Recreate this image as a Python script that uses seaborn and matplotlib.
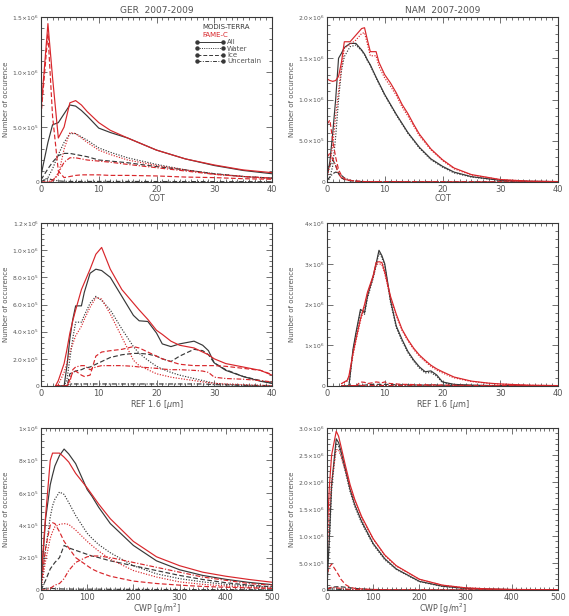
import matplotlib
matplotlib.use("Agg")
import matplotlib.pyplot as plt
import matplotlib.ticker as mticker
from matplotlib.lines import Line2D
import seaborn as sns
import pandas as pd
import numpy as np

# Valores em unidades de 10^6 ocorrências

# --- GER, COT ---
ger_cot_x = [0, 1.2, 2, 3, 4, 5, 6, 7, 8, 10, 12, 15, 20, 25, 30, 35, 40]
ger_cot_modis_all = [0.06, 0.36, 0.52, 0.54, 0.62, 0.70, 0.69, 0.65, 0.60, 0.49, 0.45, 0.40, 0.29, 0.21, 0.15, 0.105, 0.075]
ger_cot_fame_all = [0.65, 1.44, 0.95, 0.40, 0.50, 0.72, 0.74, 0.70, 0.64, 0.54, 0.47, 0.40, 0.29, 0.21, 0.155, 0.11, 0.085]
ger_cot_modis_water = [0.0, 0.04, 0.12, 0.25, 0.36, 0.44, 0.44, 0.41, 0.38, 0.31, 0.27, 0.22, 0.16, 0.11, 0.075, 0.05, 0.035]
ger_cot_fame_water = [0.0, 0.0, 0.02, 0.06, 0.30, 0.45, 0.44, 0.40, 0.36, 0.29, 0.25, 0.20, 0.15, 0.11, 0.07, 0.05, 0.03]
ger_cot_modis_ice = [0.02, 0.12, 0.18, 0.24, 0.26, 0.26, 0.25, 0.24, 0.23, 0.20, 0.19, 0.175, 0.14, 0.11, 0.075, 0.05, 0.035]
ger_cot_fame_ice = [0.60, 1.35, 0.60, 0.10, 0.04, 0.05, 0.06, 0.065, 0.065, 0.065, 0.06, 0.06, 0.055, 0.045, 0.04, 0.03, 0.025]
ger_cot_modis_unc = [0.005, 0.03, 0.02, 0.01, 0.006, 0.005, 0.005, 0.005, 0.005, 0.005, 0.005, 0.005, 0.004, 0.004, 0.003, 0.003, 0.002]
ger_cot_fame_unc = [0.0, 0.0, 0.01, 0.08, 0.18, 0.22, 0.22, 0.21, 0.20, 0.19, 0.18, 0.16, 0.13, 0.10, 0.07, 0.05, 0.035]

# --- NAM, COT ---
nam_cot_x = [0, 0.5, 1, 1.5, 2, 2.5, 3, 4, 5, 6, 6.5, 7, 7.5, 8.5, 9, 10, 11, 12, 13, 14, 15, 16, 18, 20, 22, 25, 30, 35, 40]
nam_cot_modis_all = [0.06, 0.25, 0.60, 1.0, 1.5, 1.56, 1.63, 1.68, 1.68, 1.60, 1.55, 1.48, 1.42, 1.27, 1.20, 1.06, 0.94, 0.82, 0.71, 0.60, 0.51, 0.42, 0.28, 0.19, 0.12, 0.065, 0.02, 0.008, 0.004]
nam_cot_fame_all = [1.25, 1.23, 1.22, 1.23, 1.28, 1.45, 1.70, 1.70, 1.78, 1.86, 1.87, 1.72, 1.58, 1.58, 1.45, 1.30, 1.20, 1.08, 0.94, 0.83, 0.70, 0.58, 0.40, 0.27, 0.17, 0.09, 0.03, 0.01, 0.005]
nam_cot_modis_water = [0.0, 0.05, 0.20, 0.55, 1.0, 1.35, 1.52, 1.64, 1.66, 1.59, 1.54, 1.47, 1.41, 1.26, 1.19, 1.05, 0.93, 0.81, 0.70, 0.59, 0.50, 0.41, 0.27, 0.18, 0.11, 0.06, 0.02, 0.007, 0.003]
nam_cot_fame_water = [0.05, 0.20, 0.45, 0.80, 1.10, 1.38, 1.62, 1.67, 1.72, 1.80, 1.81, 1.67, 1.53, 1.53, 1.40, 1.26, 1.16, 1.05, 0.91, 0.80, 0.68, 0.56, 0.39, 0.26, 0.16, 0.085, 0.028, 0.01, 0.005]
nam_cot_modis_ice = [0.10, 0.20, 0.27, 0.20, 0.10, 0.05, 0.03, 0.015, 0.01, 0.006, 0.005, 0.005, 0.005, 0.005, 0.005, 0.005, 0.005, 0.005, 0.004, 0.004, 0.004, 0.003, 0.003, 0.002, 0.002, 0.001, 0.001, 0.0, 0.0]
nam_cot_fame_ice = [0.70, 0.75, 0.50, 0.30, 0.15, 0.08, 0.04, 0.02, 0.01, 0.006, 0.005, 0.005, 0.005, 0.005, 0.005, 0.005, 0.005, 0.004, 0.004, 0.004, 0.003, 0.003, 0.003, 0.002, 0.002, 0.001, 0.001, 0.0, 0.0]
nam_cot_modis_unc = [0.02, 0.06, 0.10, 0.12, 0.11, 0.08, 0.05, 0.02, 0.01, 0.005, 0.005, 0.004, 0.004, 0.004, 0.004, 0.003, 0.003, 0.003, 0.003, 0.002, 0.002, 0.002, 0.002, 0.001, 0.001, 0.001, 0.0, 0.0, 0.0]
nam_cot_fame_unc = [0.30, 0.35, 0.28, 0.20, 0.10, 0.05, 0.03, 0.02, 0.01, 0.006, 0.005, 0.005, 0.005, 0.004, 0.004, 0.004, 0.003, 0.003, 0.003, 0.002, 0.002, 0.002, 0.002, 0.001, 0.001, 0.001, 0.0, 0.0, 0.0]

# --- GER, REF 1.6 ---
ger_ref_x = [2.5, 3, 4, 4.5, 5, 5.5, 6, 7, 7.5, 8.5, 9.5, 10.5, 12, 14, 16, 17, 18.5, 20, 21, 22.5, 24, 26.5, 28, 29, 30, 32, 35, 38, 40]
ger_ref_modis_all = [0.0, 0.0, 0.0, 0.15, 0.35, 0.49, 0.59, 0.59, 0.69, 0.83, 0.86, 0.85, 0.80, 0.66, 0.52, 0.48, 0.475, 0.39, 0.31, 0.29, 0.31, 0.33, 0.30, 0.26, 0.17, 0.115, 0.07, 0.035, 0.02]
ger_ref_fame_all = [0.0, 0.04, 0.165, 0.27, 0.39, 0.48, 0.56, 0.71, 0.76, 0.86, 0.97, 1.02, 0.86, 0.71, 0.61, 0.56, 0.49, 0.41, 0.38, 0.33, 0.30, 0.28, 0.25, 0.23, 0.20, 0.165, 0.14, 0.115, 0.08]
ger_ref_modis_water = [0.0, 0.0, 0.0, 0.05, 0.20, 0.35, 0.47, 0.47, 0.52, 0.61, 0.66, 0.63, 0.56, 0.42, 0.29, 0.24, 0.19, 0.145, 0.125, 0.10, 0.08, 0.055, 0.04, 0.03, 0.02, 0.012, 0.006, 0.002, 0.0]
ger_ref_fame_water = [0.0, 0.01, 0.10, 0.17, 0.25, 0.31, 0.37, 0.44, 0.49, 0.58, 0.65, 0.64, 0.53, 0.36, 0.19, 0.15, 0.12, 0.09, 0.08, 0.065, 0.055, 0.04, 0.03, 0.025, 0.02, 0.015, 0.01, 0.005, 0.003]
ger_ref_modis_ice = [0.0, 0.0, 0.0, 0.0, 0.09, 0.10, 0.11, 0.12, 0.13, 0.14, 0.16, 0.18, 0.21, 0.23, 0.24, 0.24, 0.235, 0.22, 0.20, 0.18, 0.22, 0.27, 0.26, 0.23, 0.17, 0.12, 0.07, 0.04, 0.02]
ger_ref_fame_ice = [0.0, 0.0, 0.0, 0.0, 0.05, 0.10, 0.11, 0.08, 0.07, 0.08, 0.22, 0.25, 0.26, 0.27, 0.29, 0.28, 0.25, 0.22, 0.20, 0.18, 0.16, 0.15, 0.15, 0.15, 0.15, 0.145, 0.13, 0.115, 0.085]
ger_ref_modis_unc = [0.0, 0.0, 0.0, 0.005, 0.015, 0.015, 0.015, 0.015, 0.015, 0.015, 0.015, 0.015, 0.015, 0.015, 0.015, 0.015, 0.015, 0.015, 0.015, 0.015, 0.015, 0.015, 0.015, 0.013, 0.01, 0.008, 0.005, 0.004, 0.003]
ger_ref_fame_unc = [0.0, 0.0, 0.0, 0.0, 0.03, 0.12, 0.14, 0.15, 0.15, 0.12, 0.14, 0.15, 0.15, 0.15, 0.145, 0.14, 0.135, 0.13, 0.125, 0.12, 0.12, 0.115, 0.11, 0.10, 0.065, 0.055, 0.05, 0.04, 0.03]

# --- NAM, REF 1.6 ---
nam_ref_x = [2.5, 3.5, 3.8, 4.5, 5, 5.8, 6.5, 7, 8, 8.5, 9, 9.5, 10, 10.5, 11, 12, 13, 14, 15, 16, 17, 18, 19, 20, 22, 25, 28, 30, 35, 40]
nam_ref_modis_all = [0.0, 0.0, 0.0, 0.9, 1.3, 1.88, 1.8, 2.2, 2.7, 3.0, 3.33, 3.2, 3.0, 2.55, 2.1, 1.47, 1.14, 0.85, 0.64, 0.47, 0.35, 0.37, 0.27, 0.10, 0.04, 0.02, 0.012, 0.01, 0.004, 0.0]
nam_ref_fame_all = [0.06, 0.14, 0.25, 0.80, 1.14, 1.65, 2.0, 2.3, 2.71, 3.03, 3.05, 3.03, 2.8, 2.5, 2.2, 1.76, 1.39, 1.14, 0.93, 0.76, 0.63, 0.51, 0.42, 0.35, 0.22, 0.12, 0.07, 0.05, 0.02, 0.01]
nam_ref_modis_water = [0.0, 0.0, 0.0, 0.85, 1.25, 1.82, 1.76, 2.15, 2.65, 2.95, 3.27, 3.15, 2.95, 2.5, 2.05, 1.43, 1.10, 0.82, 0.61, 0.44, 0.32, 0.33, 0.24, 0.08, 0.03, 0.015, 0.01, 0.008, 0.003, 0.0]
nam_ref_fame_water = [0.05, 0.12, 0.22, 0.75, 1.10, 1.60, 1.95, 2.25, 2.66, 2.98, 3.0, 2.98, 2.76, 2.46, 2.16, 1.72, 1.36, 1.11, 0.90, 0.73, 0.60, 0.48, 0.39, 0.32, 0.20, 0.11, 0.065, 0.045, 0.018, 0.008]
nam_ref_modis_ice = [0.0, 0.0, 0.0, 0.01, 0.01, 0.02, 0.02, 0.03, 0.04, 0.04, 0.04, 0.04, 0.04, 0.04, 0.035, 0.03, 0.03, 0.03, 0.025, 0.025, 0.02, 0.03, 0.025, 0.02, 0.015, 0.01, 0.01, 0.008, 0.004, 0.0]
nam_ref_fame_ice = [0.0, 0.0, 0.0, 0.0, 0.0, 0.10, 0.09, 0.06, 0.08, 0.10, 0.09, 0.08, 0.10, 0.07, 0.06, 0.05, 0.04, 0.04, 0.035, 0.03, 0.03, 0.03, 0.025, 0.025, 0.02, 0.015, 0.01, 0.01, 0.005, 0.0]
nam_ref_modis_unc = [0.0, 0.0, 0.0, 0.005, 0.008, 0.01, 0.01, 0.01, 0.01, 0.01, 0.01, 0.01, 0.01, 0.01, 0.01, 0.01, 0.008, 0.008, 0.006, 0.006, 0.005, 0.005, 0.004, 0.004, 0.003, 0.002, 0.002, 0.001, 0.0, 0.0]
nam_ref_fame_unc = [0.0, 0.005, 0.008, 0.01, 0.01, 0.012, 0.012, 0.012, 0.012, 0.012, 0.012, 0.012, 0.012, 0.01, 0.01, 0.01, 0.008, 0.008, 0.006, 0.006, 0.005, 0.005, 0.004, 0.004, 0.003, 0.002, 0.002, 0.001, 0.0, 0.0]

# --- GER, CWP ---
ger_cwp_x = [0, 10, 20, 25, 30, 40, 50, 60, 75, 100, 110, 125, 150, 200, 250, 300, 350, 400, 450, 500]
ger_cwp_modis_all = [0.027, 0.44, 0.65, 0.71, 0.765, 0.83, 0.87, 0.84, 0.78, 0.62, 0.58, 0.51, 0.41, 0.275, 0.18, 0.125, 0.09, 0.066, 0.047, 0.033]
ger_cwp_fame_all = [0.07, 0.46, 0.80, 0.845, 0.845, 0.845, 0.82, 0.79, 0.72, 0.63, 0.59, 0.53, 0.44, 0.30, 0.205, 0.15, 0.11, 0.085, 0.065, 0.048]
ger_cwp_modis_water = [0.01, 0.25, 0.45, 0.52, 0.56, 0.605, 0.59, 0.54, 0.46, 0.35, 0.32, 0.28, 0.23, 0.15, 0.10, 0.07, 0.05, 0.035, 0.025, 0.018]
ger_cwp_fame_water = [0.01, 0.18, 0.32, 0.36, 0.39, 0.405, 0.41, 0.405, 0.37, 0.30, 0.275, 0.24, 0.19, 0.12, 0.08, 0.05, 0.035, 0.025, 0.017, 0.012]
ger_cwp_modis_ice = [0.0, 0.06, 0.13, 0.15, 0.17, 0.20, 0.275, 0.26, 0.245, 0.22, 0.21, 0.20, 0.18, 0.15, 0.12, 0.09, 0.065, 0.045, 0.03, 0.02]
ger_cwp_fame_ice = [0.03, 0.26, 0.40, 0.415, 0.41, 0.36, 0.30, 0.26, 0.20, 0.15, 0.13, 0.11, 0.085, 0.055, 0.04, 0.03, 0.022, 0.017, 0.013, 0.01]
ger_cwp_modis_unc = [0.005, 0.01, 0.012, 0.01, 0.008, 0.007, 0.006, 0.006, 0.005, 0.005, 0.005, 0.005, 0.004, 0.004, 0.003, 0.003, 0.002, 0.002, 0.002, 0.001]
ger_cwp_fame_unc = [0.0, 0.0, 0.01, 0.02, 0.03, 0.04, 0.07, 0.12, 0.17, 0.205, 0.21, 0.21, 0.20, 0.17, 0.14, 0.11, 0.08, 0.06, 0.04, 0.03]

# --- NAM, CWP ---
nam_cwp_x = [0, 5, 10, 20, 25, 30, 40, 50, 60, 75, 100, 125, 150, 200, 250, 300, 350, 400, 500]
nam_cwp_modis_all = [0.05, 0.95, 1.95, 2.80, 2.73, 2.58, 2.23, 1.86, 1.58, 1.27, 0.86, 0.58, 0.39, 0.16, 0.07, 0.03, 0.015, 0.008, 0.003]
nam_cwp_fame_all = [1.0, 1.9, 2.5, 2.94, 2.85, 2.67, 2.30, 1.95, 1.68, 1.36, 0.95, 0.65, 0.45, 0.20, 0.09, 0.04, 0.02, 0.01, 0.005]
nam_cwp_modis_water = [0.03, 0.85, 1.85, 2.72, 2.66, 2.52, 2.18, 1.82, 1.55, 1.24, 0.84, 0.56, 0.38, 0.155, 0.065, 0.028, 0.013, 0.007, 0.002]
nam_cwp_fame_water = [0.6, 1.45, 2.0, 2.6, 2.6, 2.48, 2.20, 1.90, 1.64, 1.33, 0.94, 0.64, 0.44, 0.195, 0.088, 0.038, 0.019, 0.009, 0.004]
nam_cwp_modis_ice = [0.02, 0.04, 0.05, 0.06, 0.06, 0.06, 0.05, 0.04, 0.03, 0.02, 0.01, 0.005, 0.003, 0.001, 0.0, 0.0, 0.0, 0.0, 0.0]
nam_cwp_fame_ice = [0.30, 0.42, 0.48, 0.35, 0.28, 0.20, 0.10, 0.05, 0.03, 0.02, 0.01, 0.005, 0.003, 0.001, 0.0, 0.0, 0.0, 0.0, 0.0]
nam_cwp_modis_unc = [0.01, 0.02, 0.02, 0.015, 0.012, 0.01, 0.008, 0.006, 0.005, 0.004, 0.003, 0.002, 0.001, 0.0, 0.0, 0.0, 0.0, 0.0, 0.0]
nam_cwp_fame_unc = [0.02, 0.03, 0.05, 0.04, 0.035, 0.03, 0.02, 0.01, 0.008, 0.005, 0.003, 0.002, 0.001, 0.0, 0.0, 0.0, 0.0, 0.0, 0.0]

# Eixos: ticks e rótulos
ger_cot_yticks = [0, 0.5e6, 1.0e6, 1.5e6]
ger_cot_ylabels = ["0", r"5.0$\times$10$^5$", r"1.0$\times$10$^6$", r"1.5$\times$10$^6$"]
nam_cot_yticks = [0, 0.5e6, 1.0e6, 1.5e6, 2.0e6]
nam_cot_ylabels = ["0", r"5.0$\times$10$^5$", r"1.0$\times$10$^6$", r"1.5$\times$10$^6$", r"2.0$\times$10$^6$"]
ger_ref_yticks = [0, 0.2e6, 0.4e6, 0.6e6, 0.8e6, 1.0e6, 1.2e6]
ger_ref_ylabels = ["0", r"2.0$\times$10$^5$", r"4.0$\times$10$^5$", r"6.0$\times$10$^5$",
                   r"8.0$\times$10$^5$", r"1.0$\times$10$^6$", r"1.2$\times$10$^6$"]
nam_ref_yticks = [0, 1e6, 2e6, 3e6, 4e6]
nam_ref_ylabels = ["0", r"1$\times$10$^6$", r"2$\times$10$^6$", r"3$\times$10$^6$", r"4$\times$10$^6$"]
ger_cwp_yticks = [0, 0.2e6, 0.4e6, 0.6e6, 0.8e6, 1.0e6]
ger_cwp_ylabels = ["0", r"2$\times$10$^5$", r"4$\times$10$^5$", r"6$\times$10$^5$", r"8$\times$10$^5$", r"1$\times$10$^6$"]
nam_cwp_yticks = [0, 0.5e6, 1.0e6, 1.5e6, 2.0e6, 2.5e6, 3.0e6]
nam_cwp_ylabels = ["0", r"5.0$\times$10$^5$", r"1.0$\times$10$^6$", r"1.5$\times$10$^6$",
                   r"2.0$\times$10$^6$", r"2.5$\times$10$^6$", r"3.0$\times$10$^6$"]

cot_xticks = [0, 10, 20, 30, 40]
cwp_xticks = [0, 100, 200, 300, 400, 500]

fontes = ["MODIS-TERRA", "FAME-C"]
fases = ["All", "Water", "Ice", "Uncertain"]

PRETO = "#383838"
VERMELHO = "#d8262b"
CINZA = "#555555"
CORES = {"MODIS-TERRA": PRETO, "FAME-C": VERMELHO}
TRACOS = {"All": "", "Water": (1, 1.3), "Ice": (4, 2), "Uncertain": (4, 1.5, 1, 1.5)}
ESTILOS_MPL = {"All": "-", "Water": (0, (1, 1.3)), "Ice": (0, (4, 2)), "Uncertain": (0, (4, 1.5, 1, 1.5))}


def monta_df(x, modis, fame):
    partes = []
    for fonte, grupo in zip(fontes, [modis, fame]):
        for fase, y in zip(fases, grupo):
            partes.append(pd.DataFrame({"x": x, "n": np.array(y) * 1e6,
                                        "fonte": fonte, "fase": fase}))
    return pd.concat(partes, ignore_index=True)


def painel(ax, df, xlim, xticks, xlabel, ylim, yticks, ylabels, xminor):
    sns.lineplot(data=df, x="x", y="n", hue="fonte", style="fase",
                 palette=CORES, dashes=TRACOS, linewidth=0.85,
                 errorbar=None, legend=False, ax=ax)
    ax.set_xlim(*xlim)
    ax.set_ylim(*ylim)
    ax.set_xticks(xticks)
    ax.set_xticklabels([str(t) for t in xticks], fontsize=6, color=CINZA)
    ax.set_yticks(yticks)
    ax.set_yticklabels(ylabels, fontsize=4.3, color=CINZA)
    ax.xaxis.set_minor_locator(mticker.MultipleLocator(xminor))
    ax.yaxis.set_minor_locator(mticker.AutoMinorLocator(5))
    ax.tick_params(which="both", direction="in", top=True, right=True,
                   color=PRETO, width=0.5)
    ax.tick_params(axis="x", which="major", pad=2)
    ax.tick_params(axis="y", which="major", pad=1.5)
    ax.tick_params(which="major", length=4)
    ax.tick_params(which="minor", length=2)
    ax.set_xlabel(xlabel, fontsize=5.8, color=CINZA, labelpad=0)
    ax.set_ylabel("Number of occurence", fontsize=5, color=CINZA)
    ax.yaxis.set_label_coords(-0.14, 0.5)
    for sp in ax.spines.values():
        sp.set_visible(True)
        sp.set_color(PRETO)
        sp.set_linewidth(0.8)


sns.set_theme(style="ticks")
plt.rcParams["font.family"] = ["DejaVu Sans"]

fig = plt.figure(figsize=(5.69, 6.16), dpi=100)
esq, dir_, larg = 41 / 569, 327 / 569, 231 / 569
linhas_pos = [(1 - 182 / 616, 165 / 616), (1 - 386 / 616, 163 / 616), (1 - 590 / 616, 162 / 616)]

ax1 = fig.add_axes([esq, linhas_pos[0][0], larg, linhas_pos[0][1]])
ax2 = fig.add_axes([dir_, linhas_pos[0][0], larg, linhas_pos[0][1]])
ax3 = fig.add_axes([esq, linhas_pos[1][0], larg, linhas_pos[1][1]])
ax4 = fig.add_axes([dir_, linhas_pos[1][0], larg, linhas_pos[1][1]])
ax5 = fig.add_axes([esq, linhas_pos[2][0], larg, linhas_pos[2][1]])
ax6 = fig.add_axes([dir_, linhas_pos[2][0], larg, linhas_pos[2][1]])

df1 = monta_df(ger_cot_x,
               [ger_cot_modis_all, ger_cot_modis_water, ger_cot_modis_ice, ger_cot_modis_unc],
               [ger_cot_fame_all, ger_cot_fame_water, ger_cot_fame_ice, ger_cot_fame_unc])
df2 = monta_df(nam_cot_x,
               [nam_cot_modis_all, nam_cot_modis_water, nam_cot_modis_ice, nam_cot_modis_unc],
               [nam_cot_fame_all, nam_cot_fame_water, nam_cot_fame_ice, nam_cot_fame_unc])
df3 = monta_df(ger_ref_x,
               [ger_ref_modis_all, ger_ref_modis_water, ger_ref_modis_ice, ger_ref_modis_unc],
               [ger_ref_fame_all, ger_ref_fame_water, ger_ref_fame_ice, ger_ref_fame_unc])
df4 = monta_df(nam_ref_x,
               [nam_ref_modis_all, nam_ref_modis_water, nam_ref_modis_ice, nam_ref_modis_unc],
               [nam_ref_fame_all, nam_ref_fame_water, nam_ref_fame_ice, nam_ref_fame_unc])
df5 = monta_df(ger_cwp_x,
               [ger_cwp_modis_all, ger_cwp_modis_water, ger_cwp_modis_ice, ger_cwp_modis_unc],
               [ger_cwp_fame_all, ger_cwp_fame_water, ger_cwp_fame_ice, ger_cwp_fame_unc])
df6 = monta_df(nam_cwp_x,
               [nam_cwp_modis_all, nam_cwp_modis_water, nam_cwp_modis_ice, nam_cwp_modis_unc],
               [nam_cwp_fame_all, nam_cwp_fame_water, nam_cwp_fame_ice, nam_cwp_fame_unc])

painel(ax1, df1, (0, 40), cot_xticks, "COT", (0, 1.5e6), ger_cot_yticks, ger_cot_ylabels, 1)
painel(ax2, df2, (0, 40), cot_xticks, "COT", (0, 2.0e6), nam_cot_yticks, nam_cot_ylabels, 1)
painel(ax3, df3, (0, 40), cot_xticks, r"REF 1.6 [$\mu$m]", (0, 1.2e6), ger_ref_yticks, ger_ref_ylabels, 1)
painel(ax4, df4, (0, 40), cot_xticks, r"REF 1.6 [$\mu$m]", (0, 4e6), nam_ref_yticks, nam_ref_ylabels, 1)
painel(ax5, df5, (0, 500), cwp_xticks, r"CWP [g/m$^2$]", (0, 1e6), ger_cwp_yticks, ger_cwp_ylabels, 10)
painel(ax6, df6, (0, 500), cwp_xticks, r"CWP [g/m$^2$]", (0, 3e6), nam_cwp_yticks, nam_cwp_ylabels, 10)

ax1.set_title("GER  2007-2009", fontsize=6.5, color=CINZA, pad=3)
ax2.set_title("NAM  2007-2009", fontsize=6.5, color=CINZA, pad=3)

# Legenda (texto das fontes + estilos das fases)
ax1.text(0.70, 0.925, "MODIS-TERRA", transform=ax1.transAxes, fontsize=5, color=PRETO)
ax1.text(0.70, 0.88, "FAME-C", transform=ax1.transAxes, fontsize=5, color=VERMELHO)
alcas = [Line2D([], [], color=PRETO, linestyle=ESTILOS_MPL[f], linewidth=0.7,
                marker="o", markersize=2.2) for f in fases]
leg = ax1.legend(alcas, fases, loc="upper left", bbox_to_anchor=(0.665, 0.865),
                 frameon=False, numpoints=2, handlelength=4.4, fontsize=5,
                 labelspacing=0.05, handletextpad=0.3, borderpad=0, borderaxespad=0)
for t in leg.get_texts():
    t.set_color(CINZA)

fig.savefig("out.png", dpi=100)
